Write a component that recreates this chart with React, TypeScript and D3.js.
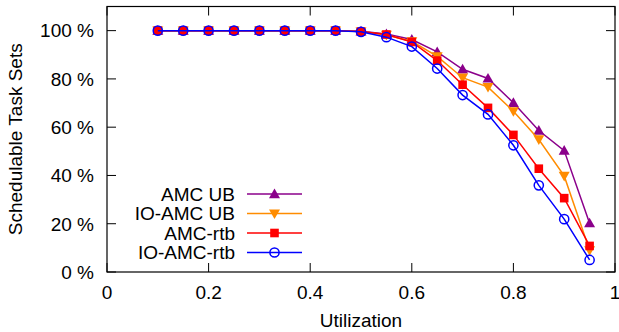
import React from "react";
import * as d3 from "d3";

const utilization = [0.1, 0.15, 0.2, 0.25, 0.3, 0.35, 0.4, 0.45, 0.5, 0.55, 0.6, 0.65, 0.7, 0.75, 0.8, 0.85, 0.9, 0.95];
const amcUB = [100, 100, 100, 100, 100, 100, 100, 100, 99.7, 98.6, 96.3, 91.2, 84.0, 80.2, 70.1, 58.6, 50.3, 20.2];
const ioAmcUB = [100, 100, 100, 100, 100, 100, 100, 100, 99.6, 98.2, 95.6, 89.3, 80.5, 76.6, 66.6, 54.9, 39.8, 9.0];
const amcRtb = [100, 100, 100, 100, 100, 100, 100, 100, 99.6, 98.4, 95.3, 87.6, 77.6, 68.0, 56.8, 42.8, 30.6, 10.8];
const ioAmcRtb = [100, 100, 100, 100, 100, 100, 100, 100, 99.5, 97.3, 93.4, 84.3, 73.3, 65.3, 52.5, 35.9, 21.9, 5.0];
const seriesNames = ["AMC UB", "IO-AMC UB", "AMC-rtb", "IO-AMC-rtb"];
const xTicks = [0, 0.2, 0.4, 0.6, 0.8, 1];
const yTicks = [0, 20, 40, 60, 80, 100];

const colors = ["#8b008b", "#ff8c00", "#ff0000", "#0000ff"];
const markers = ["triUp", "triDown", "square", "circle"];

function Marker({ type, x, y, color }: { type: string; x: number; y: number; color: string }) {
  if (type === "triUp") {
    const s = 5.5;
    return <path d={`M${x},${y - s}L${x + s},${y + s * 0.75}L${x - s},${y + s * 0.75}Z`} fill={color} />;
  }
  if (type === "triDown") {
    const s = 5.5;
    return <path d={`M${x},${y + s}L${x + s},${y - s * 0.75}L${x - s},${y - s * 0.75}Z`} fill={color} />;
  }
  if (type === "square") {
    const s = 4.3;
    return <rect x={x - s} y={y - s} width={2 * s} height={2 * s} fill={color} />;
  }
  return <circle cx={x} cy={y} r={4.6} fill="none" stroke={color} strokeWidth={1.5} />;
}

export default function App() {
  const W = 619, H = 332;
  const left = 107, right = 615, top = 6.5, bottom = 272;
  const x = d3.scaleLinear().domain([0, 1]).range([left, right]);
  const y = d3.scaleLinear().domain([0, 110]).range([bottom, top]);
  const allSeries = [amcUB, ioAmcUB, amcRtb, ioAmcRtb];
  const line = d3.line<number>().x((_, i) => x(utilization[i])).y((d) => y(d));
  const font = "'Liberation Sans', Arial, Helvetica, sans-serif";
  const fs = 19;
  const tickLen = 9;
  const legendY0 = 194;
  const legendDy = 19.5;

  return (
    <svg width={W} height={H} style={{ position: "absolute", left: 0, top: 0 }} fontFamily={font}>
      <rect x={0} y={0} width={W} height={H} fill="white" />
      {xTicks.map((t) => (
        <g key={"xt" + t}>
          <line x1={x(t)} x2={x(t)} y1={bottom} y2={bottom - tickLen} stroke="black" strokeWidth={1} />
          <line x1={x(t)} x2={x(t)} y1={top} y2={top + tickLen} stroke="black" strokeWidth={1} />
          <text x={x(t)} y={298.5} fontSize={fs} textAnchor="middle" fill="black">{String(t)}</text>
        </g>
      ))}
      {yTicks.map((t) => (
        <g key={"yt" + t}>
          <line x1={left} x2={left + tickLen} y1={y(t)} y2={y(t)} stroke="black" strokeWidth={1} />
          <line x1={right} x2={right - tickLen} y1={y(t)} y2={y(t)} stroke="black" strokeWidth={1} />
          <text x={94} y={y(t) + 6.8} fontSize={fs} textAnchor="end" fill="black">{t} %</text>
        </g>
      ))}
      {allSeries.map((s, k) => (
        <g key={"s" + k}>
          <path d={line(s) || ""} fill="none" stroke={colors[k]} strokeWidth={1.5} />
          {s.map((v, i) => (
            <Marker key={i} type={markers[k]} x={x(utilization[i])} y={y(v)} color={colors[k]} />
          ))}
        </g>
      ))}
      {seriesNames.map((n, k) => {
        const ly = legendY0 + k * legendDy;
        return (
          <g key={"lg" + k}>
            <text x={235} y={ly + 6.8} fontSize={fs} textAnchor="end" fill="black">{n}</text>
            <line x1={247} x2={302} y1={ly} y2={ly} stroke={colors[k]} strokeWidth={1.5} />
            <Marker type={markers[k]} x={274.5} y={ly} color={colors[k]} />
          </g>
        );
      })}
      <rect x={left} y={top} width={right - left} height={bottom - top} fill="none" stroke="black" strokeWidth={1.2} />
      <text x={(left + right) / 2} y={327} fontSize={fs} textAnchor="middle" fill="black">Utilization</text>
      <text transform={`translate(22,${(top + bottom) / 2}) rotate(-90)`} fontSize={fs} textAnchor="middle" fill="black">Schedulable Task Sets</text>
    </svg>
  );
}
